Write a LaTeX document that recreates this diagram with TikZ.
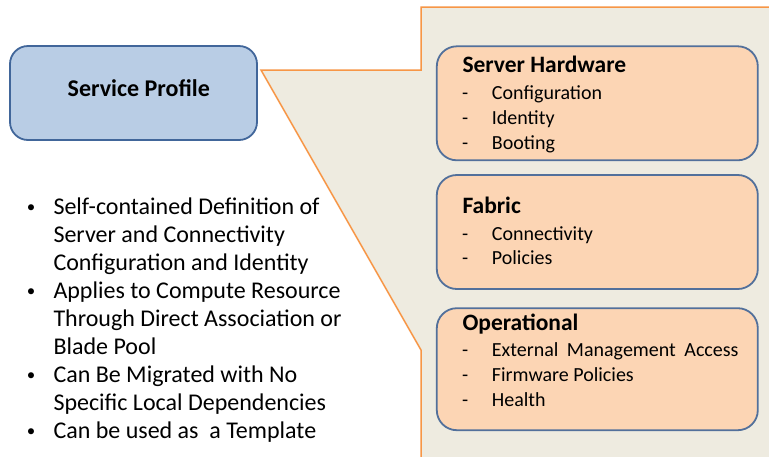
\documentclass[tikz,border=0pt]{standalone}
\usepackage{fontspec}
\setmainfont{Carlito}
\usepackage{tikz}

\definecolor{profilefill}{HTML}{B9CDE5}
\definecolor{profileline}{HTML}{41669A}
\definecolor{groupfill}{HTML}{FCD5B4}
\definecolor{groupline}{HTML}{52709B}
\definecolor{calloutfill}{HTML}{EEEBE0}
\definecolor{calloutline}{HTML}{F79646}

\tikzset{
  profilebox/.style={draw=profileline, fill=profilefill, line width=1.8pt, rounded corners=18pt, minimum width=247pt, minimum height=94pt, inner sep=0pt},
  groupbox/.style={draw=groupline, fill=groupfill, line width=1.8pt, rounded corners=20pt, minimum width=321pt, inner sep=0pt},
  grouptitle/.style={anchor=base west, inner sep=0pt, font=\fontsize{23.5}{28}\selectfont\bfseries},
  groupitem/.style={anchor=base west, inner sep=0pt, font=\fontsize{20}{24}\selectfont},
  bullettext/.style={anchor=base west, inner sep=0pt, font=\fontsize{24}{28}\selectfont},
  bulletdot/.style={anchor=base, inner sep=0pt, font=\fontsize{17}{20}\selectfont}
}

\begin{document}
\begin{tikzpicture}[x=1pt, y=-1pt]
\useasboundingbox[fill=white] (0,0) rectangle (769,456);
% callout
\draw[fill=calloutfill, draw=calloutline, line width=1.5pt] (261,70) -- (421,70) -- (421,7) -- (775,7) -- (775,462) -- (421,462) -- (421,350) -- cycle;
% service profile
\node[profilebox] (profile) at (133.5,93) {};
\node[anchor=base west, inner sep=0pt, font=\fontsize{24}{28}\selectfont\bfseries] (profiletitle) at (67.5,96) {Service Profile};
% bullet list
\foreach \txt [count=\i] in {Self-contained Definition of, Server and Connectivity, Configuration and Identity, Applies to Compute Resource, Through Direct Association or, Blade Pool, Can Be Migrated with No, Specific Local Dependencies, Can be used as\ \ a Template}
  \node[bullettext] (line\i) at (53.3,{214+28*(\i-1)}) {\txt};
\foreach \i in {1,4,7,9}
  \node[bulletdot] (dot\i) at (31,{212+28*(\i-1)}) {\textbullet};
% groups
\node[groupbox, minimum height=114pt] (hw) at (597.3,103.3) {};
\node[groupbox, minimum height=114pt] (fabric) at (597.3,232) {};
\node[groupbox, minimum height=122pt] (oper) at (597.3,369.2) {};
\node[grouptitle] (hwtitle) at (462.3,72.7) {Server Hardware};
\node[grouptitle] (fabrictitle) at (462.3,213.3) {Fabric};
\node[grouptitle] (opertitle) at (462.3,330.7) {Operational};
% items
\foreach \y/\txt [count=\i] in {99.3/Configuration, 124/Identity, 149.3/Booting, 240/Connectivity, 264.3/Policies, 356.7/External\hspace{4pt} Management\hspace{4pt} Access, 381.3/Firmware Policies, 406.7/Health} {
  \node[groupitem] (dash\i) at (462,\y) {-};
  \node[groupitem] (item\i) at (491.7,\y) {\txt};
}
\end{tikzpicture}
\end{document}
